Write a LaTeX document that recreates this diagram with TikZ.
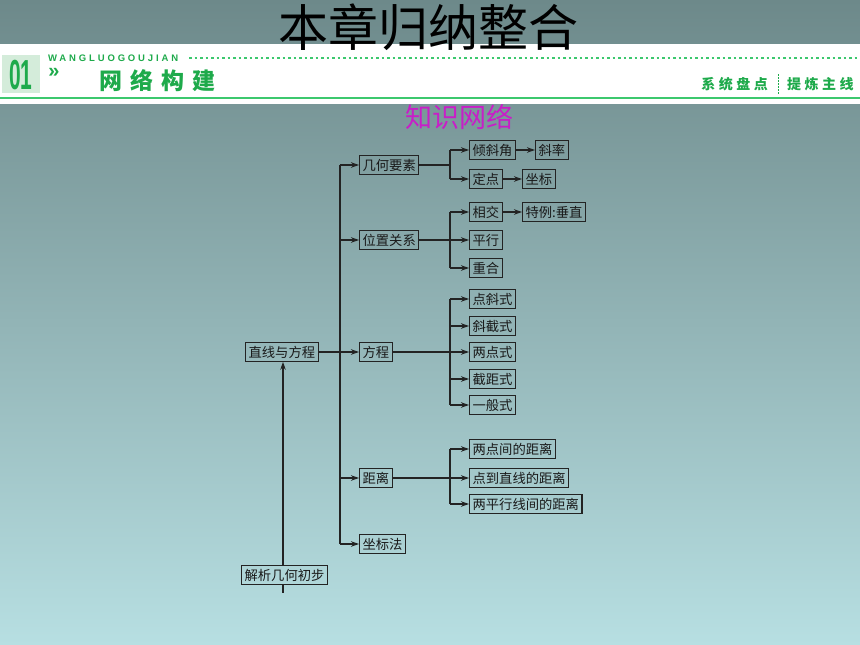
\documentclass[tikz,border=0pt]{standalone}
\usepackage{fontspec}
\newfontfamily\cjk{Noto Sans CJK SC}
\newfontfamily\lat{Liberation Sans}[LetterSpace=30]
\newfontfamily\latb{Liberation Sans}
\usetikzlibrary{arrows.meta}
\definecolor{bgtop}{RGB}{109,137,138}
\definecolor{bgbot}{RGB}{183,223,226}
\definecolor{hgreen}{RGB}{30,170,75}
\definecolor{lgreen}{RGB}{60,200,110}
\definecolor{pale}{RGB}{212,236,218}
\definecolor{mag}{RGB}{200,30,200}
\definecolor{ln}{RGB}{35,35,35}
\begin{document}
\begin{tikzpicture}[x=1pt,y=-1pt,
  box/.style={draw=ln,line width=1.2pt,inner xsep=3pt,inner ysep=0pt,minimum height=18.5pt,anchor=west,font=\cjk\fontsize{13.3}{13.3}\selectfont,text=black!90},
  con/.style={draw=ln,line width=1.1pt},
  arr/.style={con,-{Stealth[length=8pt,width=5.5pt]}},
  hd/.style={text=hgreen,inner sep=0pt}
]
\useasboundingbox (0,0) rectangle (860,645);
% background
\shade[top color=bgtop,bottom color=bgbot] (0,0) rectangle (860,645);
\fill[white] (0,44) rectangle (860,104);
\fill[pale] (2,55) rectangle (40,93);
\node[hd,font=\latb\bfseries\fontsize{42}{42}\selectfont,xscale=0.5] (num) at (21,75) {01};
\node[hd,font=\latb\bfseries\fontsize{20}{20}\selectfont] (gg) at (54,73) {»};
\node[hd,anchor=west,font=\lat\bfseries\fontsize{9.5}{9.5}\selectfont] (wl) at (48,58) {WANGLUOGOUJIAN};
\draw[lgreen,line width=1.3pt,dash pattern=on 2.5pt off 3pt] (189,58) -- (860,58);
\node[hd,anchor=west,font=\cjk\bfseries\fontsize{23}{23}\selectfont] (wljj) at (99,81) {网\hspace{8pt}络\hspace{8pt}构\hspace{8pt}建};
\node[hd,anchor=east,font=\cjk\bfseries\fontsize{14}{14}\selectfont] (xtpd) at (768,84) {系\hspace{3.5pt}统\hspace{3.5pt}盘\hspace{3.5pt}点};
\draw[hgreen,line width=1pt,dash pattern=on 1.5pt off 1.5pt] (778,74) -- (778,94);
\node[hd,anchor=west,font=\cjk\bfseries\fontsize{14}{14}\selectfont] (tlzx) at (787,84) {提\hspace{3.5pt}炼\hspace{3.5pt}主\hspace{3.5pt}线};
\draw[lgreen,line width=2.2pt] (0,98) -- (860,98);
\node[font=\cjk\fontsize{50}{50}\selectfont,inner sep=0pt] (title) at (428,27) {本章归纳整合};
\node[text=mag,font=\cjk\fontsize{27}{27}\selectfont,inner sep=0pt] (zswl) at (459,117) {知识网络};

% nodes
\node[box] (zx) at (245,352) {直线与方程};
\node[box] (jx) at (241,575) {解析几何初步};
\node[box] (gj) at (359,165) {几何要素};
\node[box] (wz) at (359,240) {位置关系};
\node[box] (fc) at (359,352) {方程};
\node[box] (jl) at (359,478) {距离};
\node[box] (zbf) at (359,544) {坐标法};
\node[box] (qxj) at (469,150) {倾斜角};
\node[box] (xl) at (535,150) {斜率};
\node[box] (dd) at (469,179) {定点};
\node[box] (zb) at (522,179) {坐标};
\node[box] (xj) at (469,212) {相交};
\node[box] (tl) at (522,212) {特例:垂直};
\node[box] (px) at (469,240) {平行};
\node[box] (ch) at (469,268) {重合};
\node[box] (f1) at (469,299) {点斜式};
\node[box] (f2) at (469,326) {斜截式};
\node[box] (f3) at (469,352) {两点式};
\node[box] (f4) at (469,379) {截距式};
\node[box] (f5) at (469,405) {一般式};
\node[box] (d1) at (469,449) {两点间的距离};
\node[box] (d2) at (469,478) {点到直线的距离};
\node[box] (d3) at (469,504) {两平行线间的距离};

\coordinate (tr) at (340,0);
\coordinate (br) at (450,0);
\coordinate (vl) at (283,0);
\coordinate (vb) at (283,593);

% connectors
\draw[con] (gj.west -| tr) -- (zbf.west -| tr);
\foreach \n in {gj,wz,jl,zbf}{\draw[arr] (\n.west -| tr) -- (\n.west);}
\draw[arr] (zx.east) -- (fc.west);
\draw[arr] (jx.north -| vl) -- (zx.south -| vl);
\draw[con] (jx.south -| vl) -- (vb);

\draw[con] (gj.east) -- (gj.east -| br);
\draw[con] (qxj.west -| br) -- (dd.west -| br);
\foreach \n in {qxj,dd}{\draw[arr] (\n.west -| br) -- (\n.west);}
\draw[arr] (qxj) -- (xl);
\draw[arr] (dd) -- (zb);

\draw[arr] (wz.east) -- (px.west);
\draw[con] (xj.west -| br) -- (ch.west -| br);
\foreach \n in {xj,ch}{\draw[arr] (\n.west -| br) -- (\n.west);}
\draw[arr] (xj) -- (tl);

\draw[arr] (fc.east) -- (f3.west);
\draw[con] (f1.west -| br) -- (f5.west -| br);
\foreach \n in {f1,f2,f4,f5}{\draw[arr] (\n.west -| br) -- (\n.west);}

\draw[arr] (jl.east) -- (d2.west);
\draw[con] (d1.west -| br) -- (d3.west -| br);
\foreach \n in {d1,d3}{\draw[arr] (\n.west -| br) -- (\n.west);}
\end{tikzpicture}
\end{document}
